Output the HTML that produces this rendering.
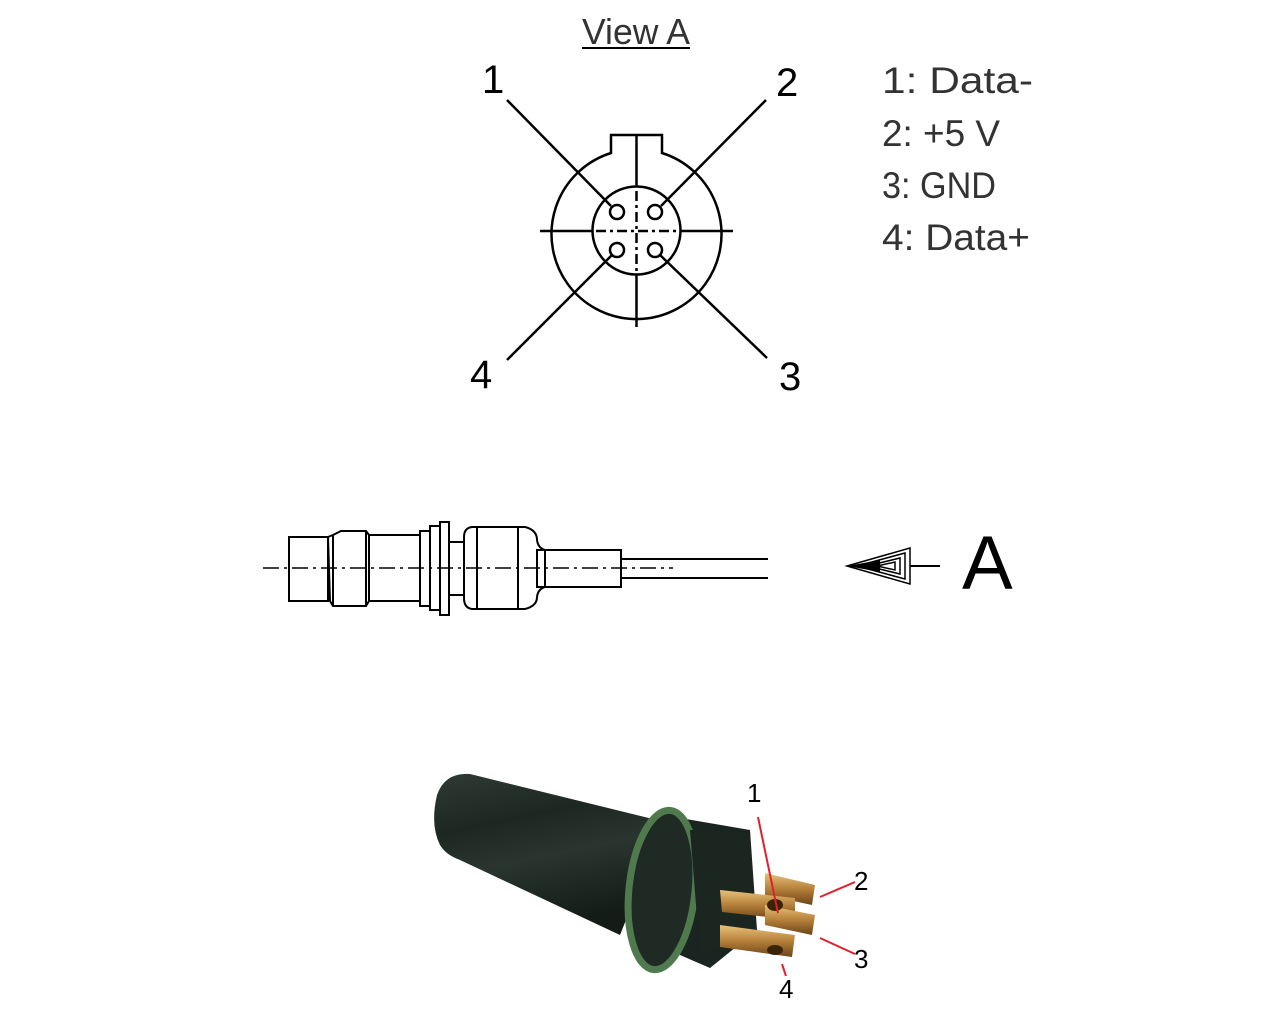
<!DOCTYPE html>
<html><head><meta charset="utf-8"><style>
html,body{margin:0;padding:0;background:#fff;}
svg{display:block;}
.t{font-family:"Liberation Sans",sans-serif;fill:#333;}
.n{font-family:"Liberation Sans",sans-serif;fill:#000;}
</style></head><body>
<svg width="1276" height="1030" viewBox="0 0 1276 1030" xmlns="http://www.w3.org/2000/svg">
<defs>
<linearGradient id="cyl" x1="0" y1="0" x2="0.3" y2="1">
<stop offset="0" stop-color="#2f3a34"/><stop offset="0.35" stop-color="#1d2822"/><stop offset="0.6" stop-color="#2a3530"/><stop offset="1" stop-color="#141c17"/>
</linearGradient>
<linearGradient id="gold" x1="0" y1="0" x2="0" y2="1">
<stop offset="0" stop-color="#e8c27a"/><stop offset="0.5" stop-color="#b5803a"/><stop offset="1" stop-color="#6b4418"/>
</linearGradient>
</defs>

<text class="t" x="582" y="44" font-size="36" textLength="108" lengthAdjust="spacingAndGlyphs">View A</text>
<line x1="582" y1="48" x2="690" y2="48" stroke="#000" stroke-width="2"/>

<g fill="none" stroke="#000" stroke-width="2.5">
<path d="M611 153 L611 135 L662 135 L662 153 A85 85 0 1 1 611 153 Z"/>
<circle cx="636.5" cy="230.5" r="44"/>
<circle cx="617" cy="212" r="7"/><circle cx="655" cy="212" r="7"/>
<circle cx="617" cy="250" r="7"/><circle cx="655" cy="250" r="7"/>
<line x1="540" y1="231" x2="592" y2="231"/><line x1="681" y1="231" x2="733" y2="231"/>
<line x1="636.5" y1="135" x2="636.5" y2="187"/><line x1="636.5" y1="275" x2="636.5" y2="327"/>
<line x1="596" y1="231" x2="677" y2="231" stroke-dasharray="10 4 3 4"/>
<line x1="636.5" y1="191" x2="636.5" y2="271" stroke-dasharray="10 4 3 4"/>
<line x1="507" y1="100" x2="611" y2="206"/>
<line x1="766" y1="100" x2="661" y2="206"/>
<line x1="507" y1="360" x2="612" y2="255"/>
<line x1="767" y1="358" x2="660" y2="255"/>
</g>
<text class="n" x="482" y="93" font-size="40">1</text>
<text class="n" x="776" y="96" font-size="40">2</text>
<text class="n" x="470" y="388" font-size="40">4</text>
<text class="n" x="779" y="390" font-size="40">3</text>

<text class="t" x="882" y="93" font-size="37" textLength="151" lengthAdjust="spacingAndGlyphs">1:  Data-</text>
<text class="t" x="882" y="146" font-size="37" textLength="118" lengthAdjust="spacingAndGlyphs">2:  +5 V</text>
<text class="t" x="882" y="198" font-size="37" textLength="114" lengthAdjust="spacingAndGlyphs">3:  GND</text>
<text class="t" x="882" y="250" font-size="37" textLength="148" lengthAdjust="spacingAndGlyphs">4:  Data+</text>

<g fill="none" stroke="#000" stroke-width="2">
<rect x="289" y="537" width="39" height="64"/>
<path d="M328 537 L333 535 L341 531 L366 531 L369 535 L369 601 L366 606 L333 606 L330 601 Z"/>
<line x1="333" y1="535" x2="333" y2="606"/><line x1="366" y1="531" x2="366" y2="606"/>
<rect x="369" y="535" width="51" height="66"/>
<rect x="420" y="531" width="10" height="75"/>
<rect x="430" y="526" width="10" height="84"/>
<rect x="440" y="522" width="9" height="93"/>
<rect x="449" y="542" width="15" height="53"/>
<path d="M472 527 L525 527 Q537 530 537 540 Q538 548 545 550 L545 587 Q538 589 537 597 Q537 606 525 609 L472 609 Q464 608 464 598 L464 537 Q464 528 472 527 Z"/>
<line x1="477" y1="527" x2="477" y2="609"/><line x1="518" y1="527" x2="518" y2="609"/>
<rect x="537" y="550" width="84" height="37"/>
<line x1="621" y1="559" x2="768" y2="559"/><line x1="621" y1="578" x2="768" y2="578"/>
<line x1="263" y1="568" x2="673" y2="568" stroke-width="1.5" stroke-dasharray="16 5 3 5"/>
</g>

<g fill="none" stroke="#000" stroke-width="1.5">
<path d="M847 566 L910 548 L910 584 Z"/>
<path d="M857 566 L905 553 L905 579 Z"/>
<path d="M867 566 L900 558 L900 574 Z"/>
<path d="M877 566 L895 562 L895 570 Z"/>
<line x1="910" y1="566" x2="940" y2="566" stroke-width="2"/>
</g>
<path d="M847 566 L880 560 L880 572 Z" fill="#000"/>
<text class="n" x="962" y="589" font-size="76">A</text>

<!-- photo -->
<g>
<path d="M470 774 Q445 772 437 795 Q430 825 440 845 Q446 855 460 860 L620 935 L665 822 Z" fill="url(#cyl)"/>
<path d="M680 818 L750 830 L757 930 L710 968 L680 955 Z" fill="#1a2420"/>
<ellipse cx="662" cy="890" rx="33" ry="80" transform="rotate(6 662 890)" fill="#1f2a24" stroke="#4f7a4e" stroke-width="7"/>
<path d="M690 830 L750 832 L755 930 L700 955 Z" fill="#1c2621"/>
<path d="M765 873 L815 885 L812 905 L765 895 Z" fill="url(#gold)"/>
<path d="M720 890 L795 898 L795 920 L722 912 Z" fill="url(#gold)"/>
<path d="M765 905 L815 915 L812 935 L765 925 Z" fill="url(#gold)"/>
<path d="M720 925 L795 935 L792 957 L720 947 Z" fill="url(#gold)"/>
<ellipse cx="775" cy="905" rx="8" ry="6" fill="#3a2408"/>
<ellipse cx="775" cy="950" rx="8" ry="5" fill="#3a2408"/>
</g>
<g stroke="#e0202a" stroke-width="2">
<line x1="758" y1="817" x2="778" y2="913"/>
<line x1="820" y1="897" x2="855" y2="882"/>
<line x1="820" y1="938" x2="855" y2="954"/>
<line x1="782" y1="964" x2="786" y2="976"/>
</g>
<text class="n" x="747" y="802" font-size="26">1</text>
<text class="n" x="854" y="890" font-size="26">2</text>
<text class="n" x="854" y="968" font-size="26">3</text>
<text class="n" x="779" y="998" font-size="26">4</text>
</svg>
</body></html>
